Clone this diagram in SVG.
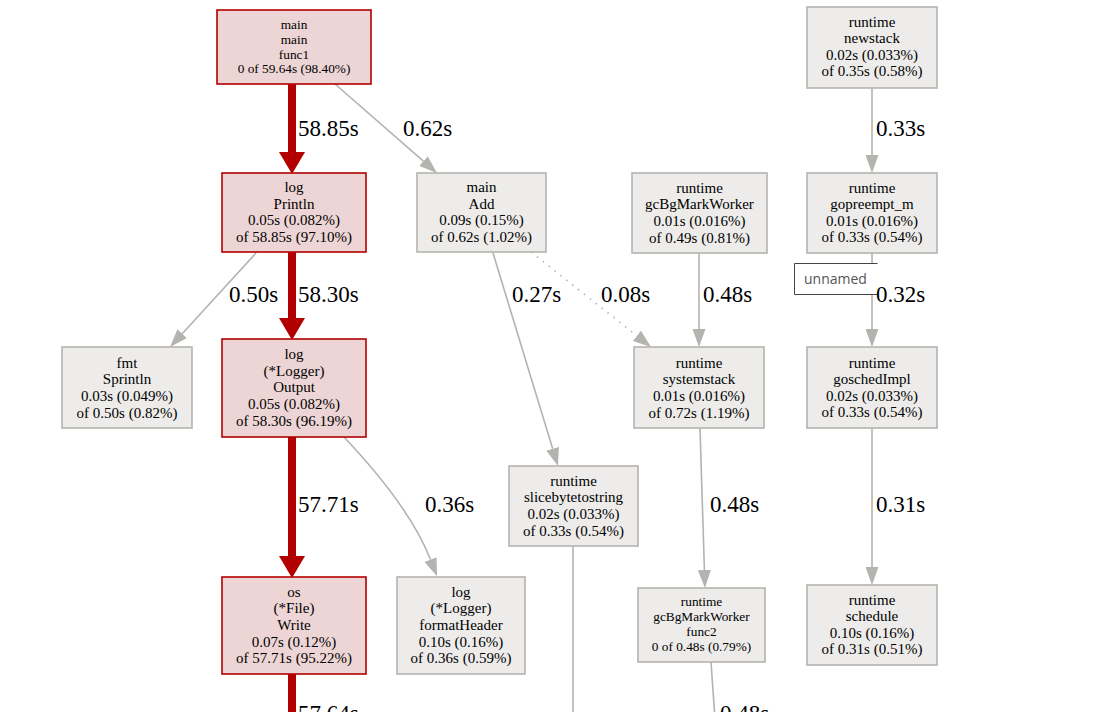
<svg xmlns="http://www.w3.org/2000/svg" width="1098" height="712" viewBox="0 0 1098 712">
<defs>
<style>
.gn{fill:#edecea;stroke:#b5b3af;stroke-width:1.6}
.rn{fill:#edd5d5;stroke:#b20000;stroke-width:1.6}
.t{font-family:"Liberation Serif","Times New Roman",serif;font-size:15px;fill:#000;text-anchor:middle}
.ts{font-family:"Liberation Serif","Times New Roman",serif;font-size:13.3px;fill:#000;text-anchor:middle}
.el{font-family:"Liberation Serif","Times New Roman",serif;font-size:23px;fill:#000}
.ge{fill:none;stroke:#b5b3af;stroke-width:1.6}
.re{fill:none;stroke:#b20000;stroke-width:8}
</style>
<marker id="ga" markerUnits="userSpaceOnUse" markerWidth="18" markerHeight="13" viewBox="0 0 18 13" refX="0" refY="6.5" orient="auto">
<path d="M0,0 L18,6.5 L0,13 Z" fill="#b5b3af"/>
</marker>
<marker id="ra" markerUnits="userSpaceOnUse" markerWidth="22" markerHeight="26" viewBox="0 0 22 26" refX="0" refY="13" orient="auto">
<path d="M0,0 L22,13 L0,26 Z" fill="#b20000"/>
</marker>
</defs>
<rect x="0" y="0" width="1098" height="712" fill="#ffffff"/>

<g id="edges">
<path class="re" d="M292,84 V152" marker-end="url(#ra)"/>
<path class="ge" d="M335,84 L423.4,161.1" marker-end="url(#ga)"/>
<path class="ge" d="M256,253 L182.2,333.7" marker-end="url(#ga)"/>
<path class="re" d="M292,252 V318" marker-end="url(#ra)"/>
<path class="re" d="M292,437 V556" marker-end="url(#ra)"/>
<path class="ge" d="M343,436 C380,475 415,520 430.5,559.5" marker-end="url(#ga)"/>
<path class="ge" d="M493,253 L552.7,448.8" marker-end="url(#ga)"/>
<path class="ge" d="M531,252 L636.9,335.8" stroke-dasharray="1.5,6" marker-end="url(#ga)"/>
<path class="ge" d="M699,253 V329" marker-end="url(#ga)"/>
<path class="ge" d="M700,428 L704.4,570" marker-end="url(#ga)"/>
<path class="ge" d="M711,662 L714.5,712"/>
<path class="ge" d="M573,546 V712"/>
<path class="ge" d="M872,88 V155" marker-end="url(#ga)"/>
<path class="ge" d="M872,253 V329" marker-end="url(#ga)"/>
<path class="ge" d="M872,428 V567" marker-end="url(#ga)"/>
<path class="re" d="M292,674 V712"/>
<text class="el" x="298" y="136">58.85s</text>
<text class="el" x="403" y="136">0.62s</text>
<text class="el" x="229" y="302">0.50s</text>
<text class="el" x="298" y="302">58.30s</text>
<text class="el" x="512" y="302">0.27s</text>
<text class="el" x="601" y="302">0.08s</text>
<text class="el" x="703" y="302">0.48s</text>
<text class="el" x="876" y="136">0.33s</text>
<text class="el" x="298" y="512">57.71s</text>
<text class="el" x="425" y="512">0.36s</text>
<text class="el" x="710" y="512">0.48s</text>
<text class="el" x="876" y="512">0.31s</text>
<text class="el" x="298" y="721">57.64s</text>
<text class="el" x="720" y="721">0.48s</text>
</g>

<g id="node-main-func1">
<rect class="rn" x="217" y="10" width="154" height="74"/>
<text class="ts" x="294" y="28.7">main</text>
<text class="ts" x="294" y="43.6">main</text>
<text class="ts" x="294" y="58.5">func1</text>
<text class="ts" x="294" y="73.4">0 of 59.64s (98.40%)</text>
</g>

<g id="node-log-println">
<rect class="rn" x="222" y="173" width="144" height="79"/>
<text class="t" x="294" y="192">log</text>
<text class="t" x="294" y="208.7">Println</text>
<text class="t" x="294" y="225.3">0.05s (0.082%)</text>
<text class="t" x="294" y="242">of 58.85s (97.10%)</text>
</g>

<g id="node-main-add">
<rect class="gn" x="417" y="173" width="129" height="79"/>
<text class="t" x="481.5" y="192">main</text>
<text class="t" x="481.5" y="208.7">Add</text>
<text class="t" x="481.5" y="225.3">0.09s (0.15%)</text>
<text class="t" x="481.5" y="242">of 0.62s (1.02%)</text>
</g>

<g id="node-fmt-sprintln">
<rect class="gn" x="62" y="347" width="130" height="81"/>
<text class="t" x="127" y="367.5">fmt</text>
<text class="t" x="127" y="384.2">Sprintln</text>
<text class="t" x="127" y="400.8">0.03s (0.049%)</text>
<text class="t" x="127" y="417.5">of 0.50s (0.82%)</text>
</g>

<g id="node-log-output">
<rect class="rn" x="222" y="339" width="144" height="98"/>
<text class="t" x="294" y="359">log</text>
<text class="t" x="294" y="375.7">(*Logger)</text>
<text class="t" x="294" y="392.4">Output</text>
<text class="t" x="294" y="409.1">0.05s (0.082%)</text>
<text class="t" x="294" y="425.8">of 58.30s (96.19%)</text>
</g>

<g id="node-os-write">
<rect class="rn" x="222" y="577" width="144" height="97"/>
<text class="t" x="294" y="596.6">os</text>
<text class="t" x="294" y="613.3">(*File)</text>
<text class="t" x="294" y="630">Write</text>
<text class="t" x="294" y="646.7">0.07s (0.12%)</text>
<text class="t" x="294" y="663.4">of 57.71s (95.22%)</text>
</g>

<g id="node-log-formatheader">
<rect class="gn" x="397" y="577" width="128" height="97"/>
<text class="t" x="461" y="596.6">log</text>
<text class="t" x="461" y="613.3">(*Logger)</text>
<text class="t" x="461" y="630">formatHeader</text>
<text class="t" x="461" y="646.7">0.10s (0.16%)</text>
<text class="t" x="461" y="663.4">of 0.36s (0.59%)</text>
</g>

<g id="node-runtime-slicebytetostring">
<rect class="gn" x="509" y="466" width="129" height="80"/>
<text class="t" x="573.5" y="485.5">runtime</text>
<text class="t" x="573.5" y="502.2">slicebytetostring</text>
<text class="t" x="573.5" y="518.8">0.02s (0.033%)</text>
<text class="t" x="573.5" y="535.5">of 0.33s (0.54%)</text>
</g>

<g id="node-runtime-systemstack">
<rect class="gn" x="634" y="347" width="130" height="81"/>
<text class="t" x="699" y="367.5">runtime</text>
<text class="t" x="699" y="384.2">systemstack</text>
<text class="t" x="699" y="400.8">0.01s (0.016%)</text>
<text class="t" x="699" y="417.5">of 0.72s (1.19%)</text>
</g>

<g id="node-runtime-gcbgmarkworker">
<rect class="gn" x="632" y="173" width="135" height="80"/>
<text class="t" x="699.5" y="192.5">runtime</text>
<text class="t" x="699.5" y="209.2">gcBgMarkWorker</text>
<text class="t" x="699.5" y="225.8">0.01s (0.016%)</text>
<text class="t" x="699.5" y="242.5">of 0.49s (0.81%)</text>
</g>

<g id="node-runtime-gcbgmarkworker-func2">
<rect class="gn" x="638" y="588" width="127" height="74"/>
<text class="ts" x="701.5" y="606">runtime</text>
<text class="ts" x="701.5" y="621">gcBgMarkWorker</text>
<text class="ts" x="701.5" y="636">func2</text>
<text class="ts" x="701.5" y="651">0 of 0.48s (0.79%)</text>
</g>

<g id="node-runtime-newstack">
<rect class="gn" x="807" y="7" width="130" height="81"/>
<text class="t" x="872" y="26.5">runtime</text>
<text class="t" x="872" y="43">newstack</text>
<text class="t" x="872" y="59.5">0.02s (0.033%)</text>
<text class="t" x="872" y="76">of 0.35s (0.58%)</text>
</g>

<g id="node-runtime-gopreempt_m">
<rect class="gn" x="807" y="173" width="130" height="80"/>
<text class="t" x="872" y="192.5">runtime</text>
<text class="t" x="872" y="209">gopreempt_m</text>
<text class="t" x="872" y="225.5">0.01s (0.016%)</text>
<text class="t" x="872" y="242">of 0.33s (0.54%)</text>
</g>

<g id="node-runtime-goschedimpl">
<rect class="gn" x="807" y="347" width="130" height="81"/>
<text class="t" x="872" y="367.5">runtime</text>
<text class="t" x="872" y="384">goschedImpl</text>
<text class="t" x="872" y="400.5">0.02s (0.033%)</text>
<text class="t" x="872" y="417">of 0.33s (0.54%)</text>
</g>

<g id="node-runtime-schedule">
<rect class="gn" x="807" y="585" width="130" height="80"/>
<text class="t" x="872" y="604.5">runtime</text>
<text class="t" x="872" y="621">schedule</text>
<text class="t" x="872" y="637.5">0.10s (0.16%)</text>
<text class="t" x="872" y="654">of 0.31s (0.51%)</text>
</g>

<g id="tooltip-unnamed">
<rect x="794.5" y="263.5" width="83" height="31" fill="#ffffff"/>
<path d="M877.5,263.5 H794.5 V294.5 H877.5" fill="none" stroke="#444444" stroke-width="1"/>
<text x="804" y="284" font-family="'Open Sans','Noto Sans','Liberation Sans',sans-serif" font-size="14" fill="#555555">unnamed</text>
</g>
<text class="el" x="876" y="302">0.32s</text>
</svg>
